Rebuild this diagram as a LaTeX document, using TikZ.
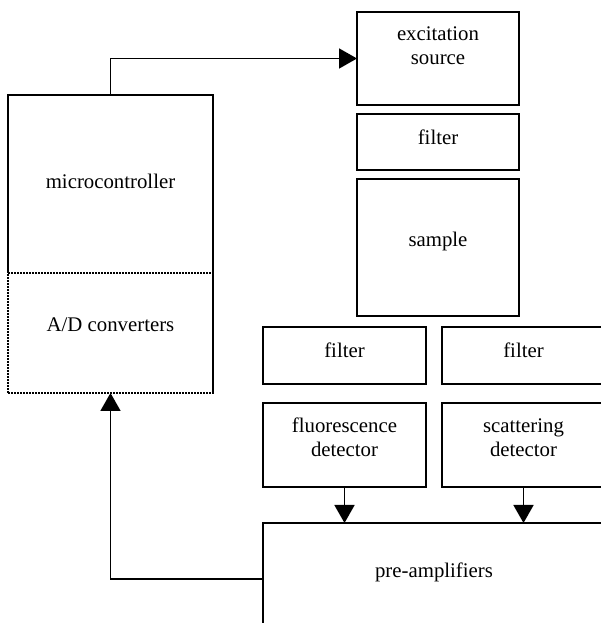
\documentclass[tikz,border=0pt]{standalone}
\usepackage{fontspec}
\setmainfont{Liberation Serif}
\usepackage{tikz}
\usetikzlibrary{arrows.meta,positioning}

\begin{document}
\begin{tikzpicture}[
    x=1pt, y=1pt,
    font=\fontsize{20.8}{24}\selectfont,
    box/.style={draw, line width=1.7pt, outer sep=0pt, inner sep=0pt, align=center, text height=14pt, text depth=16pt},
    twoline/.style={text height=38pt},
    wire/.style={line width=1.7pt, -{Triangle[length=18pt,width=20pt]}}
  ]
    \clip (0,0) rectangle (601,623);
    % left column
    \node[box, draw=none, minimum width=205pt, minimum height=178pt, text depth=4pt] (mc) at (110.5,439) {microcontroller};
    \node[box, dash pattern=on 1.7pt off 1.3pt, below=0pt of mc, minimum width=205pt, minimum height=120pt] (adc) {A/D converters};
    \draw[line width=1.7pt] (mc.south west) -- (mc.north west) -- (mc.north east) -- (adc.south east);
    % excitation path
    \node[box, twoline, minimum width=162pt, minimum height=93pt, text depth=26pt] (src) at (438,564.5) {excitation\\source};
    \node[box, below=9pt of src, minimum width=162pt, minimum height=56pt, text depth=9pt] (exfilt) {filter};
    \node[box, below=9pt of exfilt, minimum width=162pt, minimum height=137pt] (smp) {sample};
    % detection paths
    \node[box, minimum width=163pt, minimum height=57pt, text depth=10pt] (flfilt) at (344.5,267.5) {filter};
    \node[box, right=16pt of flfilt, minimum width=163pt, minimum height=57pt, text depth=10pt] (scfilt) {filter};
    \node[box, twoline, below=19pt of flfilt, minimum width=163pt, minimum height=84pt, text depth=14pt] (fldet) {fluorescence\\detector};
    \node[box, twoline, right=16pt of fldet, minimum width=163pt, minimum height=84pt, text depth=14pt] (scdet) {scattering\\detector};
    \node[box, below=36pt of fldet.south west, anchor=north west, minimum width=342pt, minimum height=112pt] (preamp) {pre-amplifiers};
    % connections
    \draw[wire] (mc.north) |- (src.west);
    \draw[wire] (fldet.south) -- (fldet.south |- preamp.north);
    \draw[wire] (scdet.south) -- (scdet.south |- preamp.north);
    \draw[wire] (preamp.west) -| (adc.south);
  \end{tikzpicture}
\end{document}
